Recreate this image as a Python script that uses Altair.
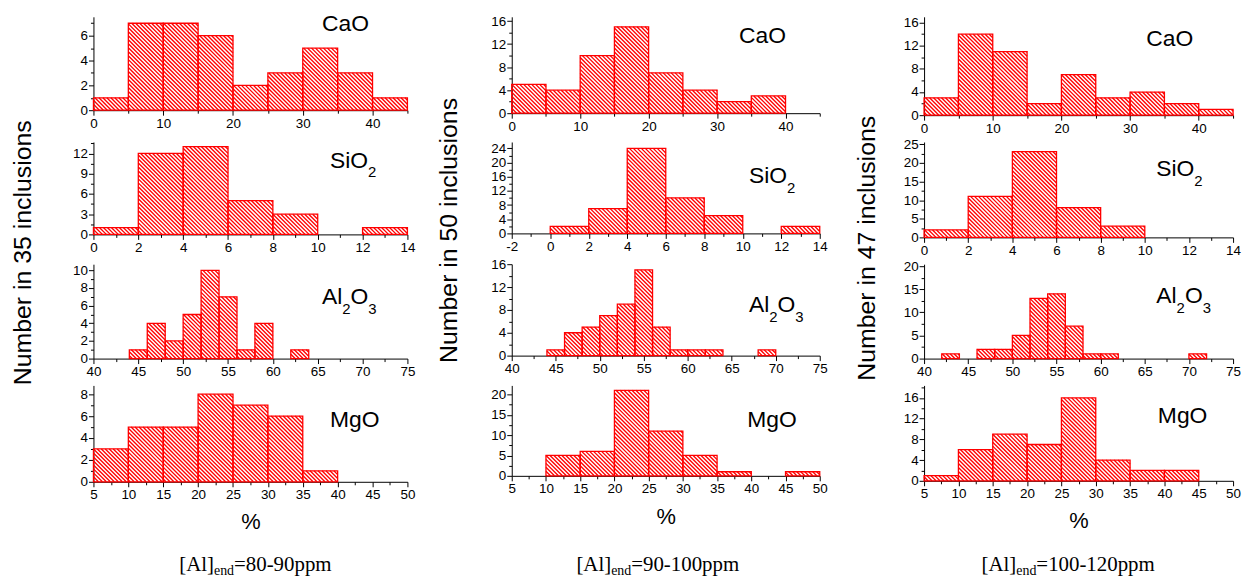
import math
import altair as alt
import pandas as pd

# ---------------- data ----------------
CAO_BIN_STARTS = [0, 5, 10, 15, 20, 25, 30, 35, 40]
CAO_BIN_WIDTH = 5
CAO_80_90 = [1, 7, 7, 6, 2, 3, 5, 3, 1]
CAO_90_100 = [5, 4, 10, 15, 7, 4, 2, 3, 0]
CAO_100_120 = [3, 14, 11, 2, 7, 3, 4, 2, 1]

SIO2_BIN_STARTS = [0, 2, 4, 6, 8, 10, 12]
SIO2_BIN_WIDTH = 2
SIO2_80_90 = [1, 12, 13, 5, 3, 0, 1]
SIO2_90_100 = [2, 7, 24, 10, 5, 0, 2]
SIO2_100_120 = [2, 11, 23, 8, 3, 0, 0]

AL2O3_BIN_STARTS = [42, 44, 46, 48, 50, 52, 54, 56, 58, 60, 62, 64, 66, 68, 70]
AL2O3_BIN_WIDTH = 2
AL2O3_80_90 = [0, 1, 4, 2, 5, 10, 7, 1, 4, 0, 1, 0, 0, 0, 0]
AL2O3_90_100 = [0, 1, 4, 5, 7, 9, 15, 5, 1, 1, 1, 0, 0, 1, 0]
AL2O3_100_120 = [1, 0, 2, 2, 5, 13, 14, 7, 1, 1, 0, 0, 0, 0, 1]

MGO_BIN_STARTS = [5, 10, 15, 20, 25, 30, 35, 40, 45]
MGO_BIN_WIDTH = 5
MGO_80_90 = [3, 5, 5, 8, 7, 6, 1, 0, 0]
MGO_90_100 = [0, 5, 6, 21, 11, 5, 1, 0, 1]
MGO_100_120 = [1, 6, 9, 7, 16, 4, 2, 2, 0]

GROUP_LABELS = ["80-90", "90-100", "100-120"]
INCLUSION_COUNTS = [35, 50, 47]
COMPONENTS = ["CaO", "SiO2", "Al2O3", "MgO"]

SERIES = {
    "CaO": (CAO_BIN_STARTS, CAO_BIN_WIDTH, [CAO_80_90, CAO_90_100, CAO_100_120]),
    "SiO2": (SIO2_BIN_STARTS, SIO2_BIN_WIDTH, [SIO2_80_90, SIO2_90_100, SIO2_100_120]),
    "Al2O3": (AL2O3_BIN_STARTS, AL2O3_BIN_WIDTH, [AL2O3_80_90, AL2O3_90_100, AL2O3_100_120]),
    "MgO": (MGO_BIN_STARTS, MGO_BIN_WIDTH, [MGO_80_90, MGO_90_100, MGO_100_120]),
}

# x axis: (min, max, major step)
X_AXES = {"CaO": (0, 45, 10), "SiO2": (0, 14, 2), "Al2O3": (40, 75, 5), "MgO": (5, 50, 5)}
X_OVERRIDES = {(1, "SiO2"): (-2, 14, 2)}
# y axis per column/row: (max, major step)
Y_AXES = [
    [(7.52, 2), (13.7, 3), (10.7, 2), (8.8, 2)],
    [(16.74, 4), (25.8, 4), (16, 4), (22.2, 5)],
    [(17, 4), (25.6, 5), (20.4, 5), (18.4, 4)],
]

# ---------------- layout / style ----------------
FONT = "Liberation Sans"
SERIF = "Liberation Serif"
RED = "#ff0000"
COL_WIDTHS = [316, 310, 311]
HEIGHTS = [[94, 93, 95, 97], [97, 92, 92, 91], [99, 96, 95, 96]]
LABEL_POS = [
    [(230, 14.3), (238, 25.7), (230, 40), (238, 42.3)],
    [(228.7, 26.7), (238.7, 41.7), (238.7, 47.7), (237, 42.3)],
    [(223.7, 29), (233.7, 34), (233.7, 38.7), (235.3, 38.3)],
]
TITLE_POS = [(-71, 237.5), (-63, 215), (-57, 233)]
CAPTION_POS = [(163, 187), (147, 187), (145, 187)]
LABEL_PIECES = {
    "CaO": [("CaO", False)],
    "SiO2": [("SiO", False), ("2", True)],
    "Al2O3": [("Al", False), ("2", True), ("O", False), ("3", True)],
    "MgO": [("MgO", False)],
}
ARIAL_W = {"C": 722, "a": 556, "O": 778, "S": 667, "i": 222, "A": 667, "l": 222,
           "M": 833, "g": 556}
TIMES_W = {"[": 333, "A": 722, "l": 278, "]": 333, "e": 444, "n": 500, "d": 500,
           "=": 564, "-": 333, "p": 500, "m": 778}


def text_width(s, size, table, default):
    return sum(table.get(ch, default) for ch in s) * size / 1000.0


ONE = pd.DataFrame({"k": [0]})


def text_layer(txt, x, y, size, font, angle=0, align="left", baseline="alphabetic"):
    return alt.Chart(ONE).mark_text(
        text=txt, font=font, fontSize=size, color="black", align=align,
        baseline=baseline, angle=angle,
    ).encode(x=alt.value(x), y=alt.value(y))


def tick_values(lo, hi, step):
    half = step / 2.0
    k0 = math.ceil(lo / half - 1e-9)
    k1 = math.floor(hi / half + 1e-9)
    return [round(k * half, 6) for k in range(k0, k1 + 1)]


def make_axis(lo, hi, step, title=None):
    minor = f"abs(datum.value / {step} - round(datum.value / {step})) > 0.001"
    kw = dict(
        values=tick_values(lo, hi, step),
        labelExpr=f"{minor} ? '' : '' + datum.value",
        tickSize={"condition": {"test": minor, "value": 3}, "value": 5},
        grid=False, labelFont=FONT, labelFontSize=13.5, labelColor="black",
        domainColor="black", tickColor="black", domainWidth=1, tickWidth=1,
        labelFlush=False, labelOverlap=False, labelPadding=1,
    )
    if title:
        kw.update(title=title, titleFont=FONT, titleFontSize=22, titleFontWeight="normal",
                  titleColor="black", titlePadding=11)
    else:
        kw["title"] = None
    return alt.Axis(**kw)


def hatch_rows(starts, bw, counts, xlo, xhi, ymax, W, H, spacing=4.0):
    kx = W / (xhi - xlo)
    ky = H / ymax
    rows = []
    for s, c in zip(starts, counts):
        if c <= 0:
            continue
        x0 = (s - xlo) * kx
        x1 = (s + bw - xlo) * kx
        yt = (ymax - c) * ky
        yb = ymax * ky
        k = math.ceil((x0 - yb) / spacing)
        while k * spacing <= x1 - yt:
            c0 = k * spacing
            xa = max(x0, yt + c0)
            xb = min(x1, yb + c0)
            if xb - xa > 0.3:
                rows.append({
                    "x": xlo + xa / kx, "y": ymax - (xa - c0) / ky,
                    "x2": xlo + xb / kx, "y2": ymax - (xb - c0) / ky,
                })
            k += 1
    return pd.DataFrame(rows)


def panel(c, r):
    comp = COMPONENTS[r]
    starts, bw, all_counts = SERIES[comp]
    counts = all_counts[c]
    xlo, xhi, xstep = X_OVERRIDES.get((c, comp), X_AXES[comp])
    ymax, ystep = Y_AXES[c][r]
    W = COL_WIDTHS[c]
    H = HEIGHTS[c][r]

    xs = alt.Scale(domain=[xlo, xhi], nice=False, zero=False)
    ys = alt.Scale(domain=[0, ymax], nice=False, zero=False)
    xaxis = make_axis(xlo, xhi, xstep, "%" if r == 3 else None)
    yaxis = make_axis(0, ymax, ystep)

    bars = pd.DataFrame({"start": starts, "end": [s + bw for s in starts], "count": counts})
    bars = bars[bars["count"] > 0]
    hatch = hatch_rows(starts, bw, counts, xlo, xhi, ymax, W, H)

    h = alt.Chart(hatch).mark_rule(color=RED, strokeWidth=1.35).encode(
        x=alt.X("x:Q", scale=xs, axis=xaxis), x2="x2:Q",
        y=alt.Y("y:Q", scale=ys, axis=yaxis), y2="y2:Q",
    )
    rect = alt.Chart(bars).mark_rect(fill="transparent", stroke=RED, strokeWidth=1.3).encode(
        x=alt.X("start:Q", scale=xs, axis=xaxis), x2="end:Q",
        y=alt.Y("count:Q", scale=ys, axis=yaxis), y2=alt.datum(0),
    )
    layers = [h, rect]

    # component label with subscripts
    lx, ly = LABEL_POS[c][r]
    for txt, sub in LABEL_PIECES[comp]:
        size = 15 if sub else 23
        layers.append(text_layer(txt, lx, ly + (10 if sub else 0), size, FONT))
        lx += text_width(txt, size, ARIAL_W, 556)

    if r == 0:
        tx, ty = TITLE_POS[c]
        layers.append(text_layer(f"Number in {INCLUSION_COUNTS[c]} inclusions", tx, ty, 25,
                                 FONT, angle=270, align="center", baseline="middle"))
    if r == 3:
        pieces = [("[Al]", False), ("end", True), (f"={GROUP_LABELS[c]}ppm", False)]
        sizes = [14 if s else 21 for _, s in pieces]
        total = sum(text_width(t, sz, TIMES_W, 500) for (t, _), sz in zip(pieces, sizes))
        cx, cy = CAPTION_POS[c]
        px = cx - total / 2.0
        for (t, sub), sz in zip(pieces, sizes):
            layers.append(text_layer(t, px, cy + (4 if sub else 0), sz, SERIF))
            px += text_width(t, sz, TIMES_W, 500)

    return alt.layer(*layers).properties(width=W, height=H)


panels = [panel(c, r) for r in range(4) for c in range(3)]

chart = alt.concat(
    *panels, columns=3, spacing={"row": 27, "column": 105}, bounds="flush", align="each"
).configure_view(stroke=None).properties(
    background="white", padding={"left": 3, "top": 3, "right": 4, "bottom": 4}
)

chart.save("out.html", embed_options={"renderer": "svg", "actions": False})
